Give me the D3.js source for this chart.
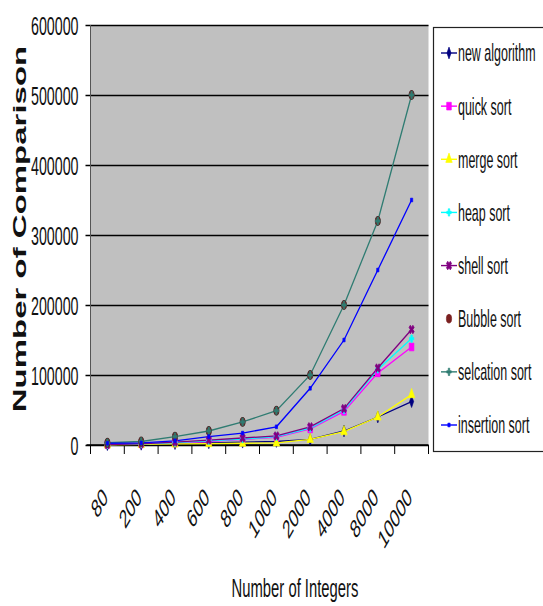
<!DOCTYPE html>
<html>
<head>
<meta charset="utf-8">
<script src="https://cdn.jsdelivr.net/npm/d3@7"></script>
<style>
html,body{margin:0;padding:0;background:#fff;}
svg{display:block;}
text{font-family:"Liberation Sans",Arial,sans-serif;fill:#111;}
</style>
</head>
<body>
<div id="chart"></div>
<script>
// ---- data ----
const categories = ["80","200","400","600","800","1000","2000","4000","8000","10000"];
const yTicks = [0,100000,200000,300000,400000,500000,600000];
const seriesNames = ["new algorithm","quick sort","merge sort","heap sort","shell sort","Bubble sort","selcation sort","insertion sort"];
const newAlgorithm  = [500,1000,2000,3000,4000,5000,8000,20000,40000,62000];
const quickSort     = [500,1500,3000,5000,8000,11000,23000,48000,103000,140000];
const mergeSort     = [300,800,1500,2000,2500,3000,8000,19000,40000,72000];
const heapSort      = [600,1600,3500,6000,8500,12000,24000,50000,108000,152000];
const shellSort     = [700,1800,4000,7000,10000,13000,26000,52000,110000,165000];
const bubbleSort    = [3200,5000,12000,20000,33000,49000,100000,200000,320000,500000];
const selectionSort = [3200,5000,12000,20000,33000,49000,100000,200000,320000,500000];
const insertionSort = [2500,3000,6000,12000,17000,26000,81000,150000,250000,350000];

const W = 543, H = 606;
const SX = 0.57; // horizontal squeeze of the original picture
const plot = {left:90.5, right:428.5, top:25, bottom:445};

const styles = [
  {color:"#000080", line:true,  sym:d3.symbolDiamond, size:40},
  {color:"#FF00FF", line:true,  sym:d3.symbolSquare,  size:60},
  {color:"#FFFF00", line:true,  sym:d3.symbolTriangle,size:50},
  {color:"#00FFFF", line:true,  sym:d3.symbolCross,   size:30},
  {color:"#800080", line:true,  sym:d3.symbolCross,   size:45},
  {color:"#7a2020", line:false, sym:d3.symbolCircle,  size:60},
  {color:"#2f7c72", line:true,  sym:d3.symbolCross,   size:30},
  {color:"#0000FF", line:true,  sym:d3.symbolSquare,  size:14}
];
const data = [newAlgorithm,quickSort,mergeSort,heapSort,shellSort,bubbleSort,selectionSort,insertionSort];

const svg = d3.select("#chart").append("svg").attr("width",W).attr("height",H);

const x = d3.scaleBand().domain(categories).range([plot.left,plot.right]).padding(0);
const y = d3.scaleLinear().domain([0,600000]).range([plot.bottom,plot.top]);

// plot background
svg.append("rect").attr("x",plot.left).attr("y",plot.top)
  .attr("width",plot.right-plot.left).attr("height",plot.bottom-plot.top)
  .attr("fill","#C0C0C0");

// y axis with gridlines
const yAxis = d3.axisLeft(y).tickValues(yTicks).tickFormat(d3.format("d"))
  .tickSizeInner(plot.right-plot.left+5).tickSizeOuter(0).tickPadding(7);
const gy = svg.append("g").attr("transform",`translate(${plot.right},0)`).call(yAxis);
gy.select(".domain").remove();
gy.selectAll(".tick line").attr("stroke","#000").attr("stroke-width",1.6);
gy.selectAll(".tick text").each(function(){
  const t = d3.select(this);
  const tx = +t.attr("x");
  t.attr("x",0).attr("transform",`translate(${tx},0) scale(${SX},1)`)
   .attr("font-size",25).attr("dy","0.36em").attr("fill","#111");
});
// left axis line
svg.append("line").attr("x1",plot.left).attr("x2",plot.left)
  .attr("y1",plot.top).attr("y2",plot.bottom).attr("stroke","#555").attr("stroke-width",1);

// x axis
const xAxis = d3.axisBottom(x).tickSize(0).tickPadding(0);
const gx = svg.append("g").attr("transform",`translate(0,${plot.bottom})`).call(xAxis);
gx.select(".domain").remove();
gx.selectAll(".tick text").attr("x",0).attr("y",0).attr("dy",0)
  .attr("text-anchor","end").attr("font-size",26)
  .attr("transform",`translate(1.5,54) scale(${SX},1) rotate(-45)`);
svg.append("line").attr("x1",plot.left-4).attr("x2",plot.right)
  .attr("y1",plot.bottom).attr("y2",plot.bottom).attr("stroke","#000").attr("stroke-width",1.6);
const bounds = categories.map(c=>x(c)).concat([x.range()[1]]);
svg.append("g").selectAll("line").data(bounds).join("line")
  .attr("x1",d=>d).attr("x2",d=>d).attr("y1",plot.bottom).attr("y2",plot.bottom+9)
  .attr("stroke","#000").attr("stroke-width",1);

// series
const cx = c => x(c) + x.bandwidth()/2;
const line = d3.line().x((d,i)=>cx(categories[i])).y(d=>y(d));
const gs = svg.append("g");
data.forEach((vals,k)=>{
  const st = styles[k];
  if(st.line){
    gs.append("path").attr("d",line(vals)).attr("fill","none")
      .attr("stroke",st.color).attr("stroke-width",1.3);
  }
});
data.forEach((vals,k)=>{
  const st = styles[k];
  const sym = d3.symbol().type(st.sym).size(st.size);
  gs.append("g").selectAll("path").data(vals).join("path")
    .attr("d",sym())
    .attr("transform",(d,i)=>`translate(${cx(categories[i])},${y(d)}) scale(0.6,1)${k===4?" rotate(45)":""}`)
    .attr("fill",st.color)
    .attr("stroke",k===5?"#4a2a2a":st.color).attr("stroke-width",k===5?1.2:0.8);
});

// legend
const lg = svg.append("g");
lg.append("rect").attr("x",433.5).attr("y",27.5).attr("width",130).attr("height",424)
  .attr("fill","#fff").attr("stroke","#222").attr("stroke-width",1.2);
const ly = d3.scalePoint().domain(seriesNames).range([53,425]);
seriesNames.forEach((name,k)=>{
  const st = styles[k];
  const yy = ly(name);
  if(st.line){
    lg.append("line").attr("x1",441).attr("x2",457).attr("y1",yy).attr("y2",yy)
      .attr("stroke",st.color).attr("stroke-width",1.4);
  }
  lg.append("path").attr("d",d3.symbol().type(st.sym).size(st.size)())
    .attr("transform",`translate(449,${yy}) scale(0.6,1)${k===4?" rotate(45)":""}`)
    .attr("fill",st.color).attr("stroke",st.color).attr("stroke-width",0.8);
  lg.append("text").text(name).attr("font-size",24)
    .attr("transform",`translate(458,${yy}) scale(0.52,1)`)
    .attr("dy","0.35em");
});

// axis titles
svg.append("text").text("Number of Comparison")
  .attr("font-size",33).attr("font-weight","bold").attr("text-anchor","middle")
  .attr("transform",`translate(26,229) scale(${SX},1) rotate(-90)`);
svg.append("text").text("Number of Integers")
  .attr("font-size",26).attr("text-anchor","middle")
  .attr("transform",`translate(295,597) scale(${SX},1)`);
</script>
</body>
</html>
